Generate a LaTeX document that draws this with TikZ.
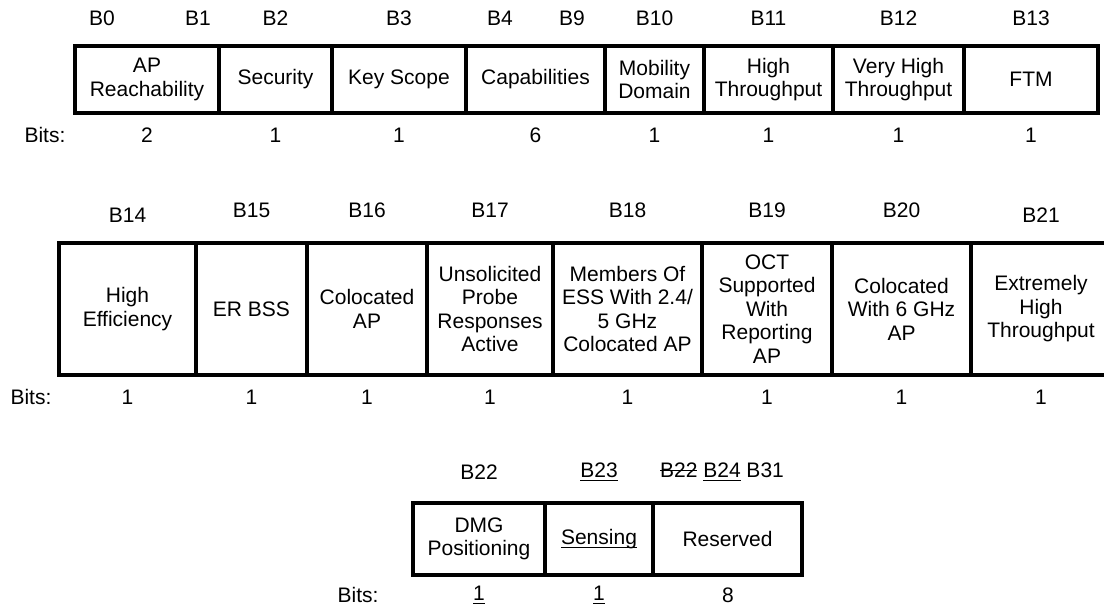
\documentclass[tikz,border=0pt]{standalone}
\usepackage{fontspec}
\setmainfont{Liberation Sans}
\newcommand{\ulined}[1]{\leavevmode\setbox0\hbox{#1}\rlap{\rule[-0.17em]{\wd0}{1.2pt}}\box0\relax}
\newcommand{\struck}[1]{\leavevmode\setbox0\hbox{#1}\rlap{\rule[0.32em]{\wd0}{1.2pt}}\box0\relax}

\begin{document}
\begin{tikzpicture}[x=1pt,y=-1pt,font=\fontsize{21}{23.5}\selectfont,
    cell/.style={draw,line width=3.8pt,inner sep=0pt,align=center}]
    \clip (0,0) rectangle (1104,605);
    % row 1: B0 .. B13
    \foreach \n/\l/\r/\t/\b in {ap/75/219/{AP\\Reachability}/2,sec/219/332/Security/1,
        key/332/466/Key Scope/1,cap/466/605/Capabilities/6,mob/605/704/{Mobility\\Domain}/1,
        ht/704/833/{High\\Throughput}/1,vht/833/964/{Very High\\Throughput}/1,ftm/964/1098/FTM/1}
      {\node[cell,minimum width={(\r-\l)*1pt},minimum height=67pt] (\n) at ({(\l+\r)/2},79.5) {\t};
       \node (\n-bits) at ({(\l+\r)/2},135) {\b};}
    \node (b0) at (102,18) {B0}; \node (b1) at (198,18) {B1};
    \node (b4) at (500,18) {B4}; \node (b9) at (572,18) {B9};
    \foreach \n/\t in {sec/B2,key/B3,mob/B10,ht/B11,vht/B12,ftm/B13} \node (\n-lbl) at (\n |- 0,18) {\t};
    \node (bits1) at (45,135) {Bits:};
    % row 2: B14 .. B21
    \foreach \n/\l/\r/\t in {he/59/196/{High\\Efficiency},er/196/307/ER BSS,colap/307/427/{Colocated\\AP},
        unsol/427/553/{Unsolicited\\Probe\\Responses\\Active},mem/553/702/{Members Of\\ESS With 2.4/\\5 GHz\\Colocated AP},
        oct/702/832/{OCT\\Supported\\With\\Reporting\\AP},col6/832/971/{Colocated\\With 6 GHz\\AP},
        eht/971/1111/{Extremely\\High\\Throughput}}
      {\node[cell,minimum width={(\r-\l)*1pt},minimum height=132pt] (\n) at ({(\l+\r)/2},309) {\t};
       \node (\n-bits) at ({(\l+\r)/2},397) {1};}
    \node (he-lbl) at (he |- 0,215) {B14};
    \foreach \n/\t in {er/B15,colap/B16,unsol/B17,mem/B18,oct/B19,col6/B20} \node (\n-lbl) at (\n |- 0,210) {\t};
    \node (eht-lbl) at (eht |- 0,215) {B21};
    \node (bits2) at (31,397) {Bits:};
    % row 3: B22 .. B31
    \node[cell,minimum width=132pt,minimum height=72pt] (dmg) at (479,539) {DMG\\Positioning};
    \node[cell,minimum width=108pt,minimum height=72pt] (sens) at (599,539) {\ulined{Sensing}};
    \node[cell,minimum width=149pt,minimum height=72pt] (res) at (727.5,539) {Reserved};
    \node (dmg-lbl) at (dmg |- 0,472) {B22};
    \node (sens-lbl) at (sens |- 0,472) {\ulined{B23}};
    \node (res-lbl) at (722,472) {\struck{B22} \ulined{B24} B31};
    \node (bits3) at (358,595) {Bits:};
    \node (dmg-bits) at (dmg |- 0,595) {\ulined{1}};
    \node (sens-bits) at (sens |- 0,595) {\ulined{1}};
    \node (res-bits) at (728,595) {8};
\end{tikzpicture}
\end{document}
